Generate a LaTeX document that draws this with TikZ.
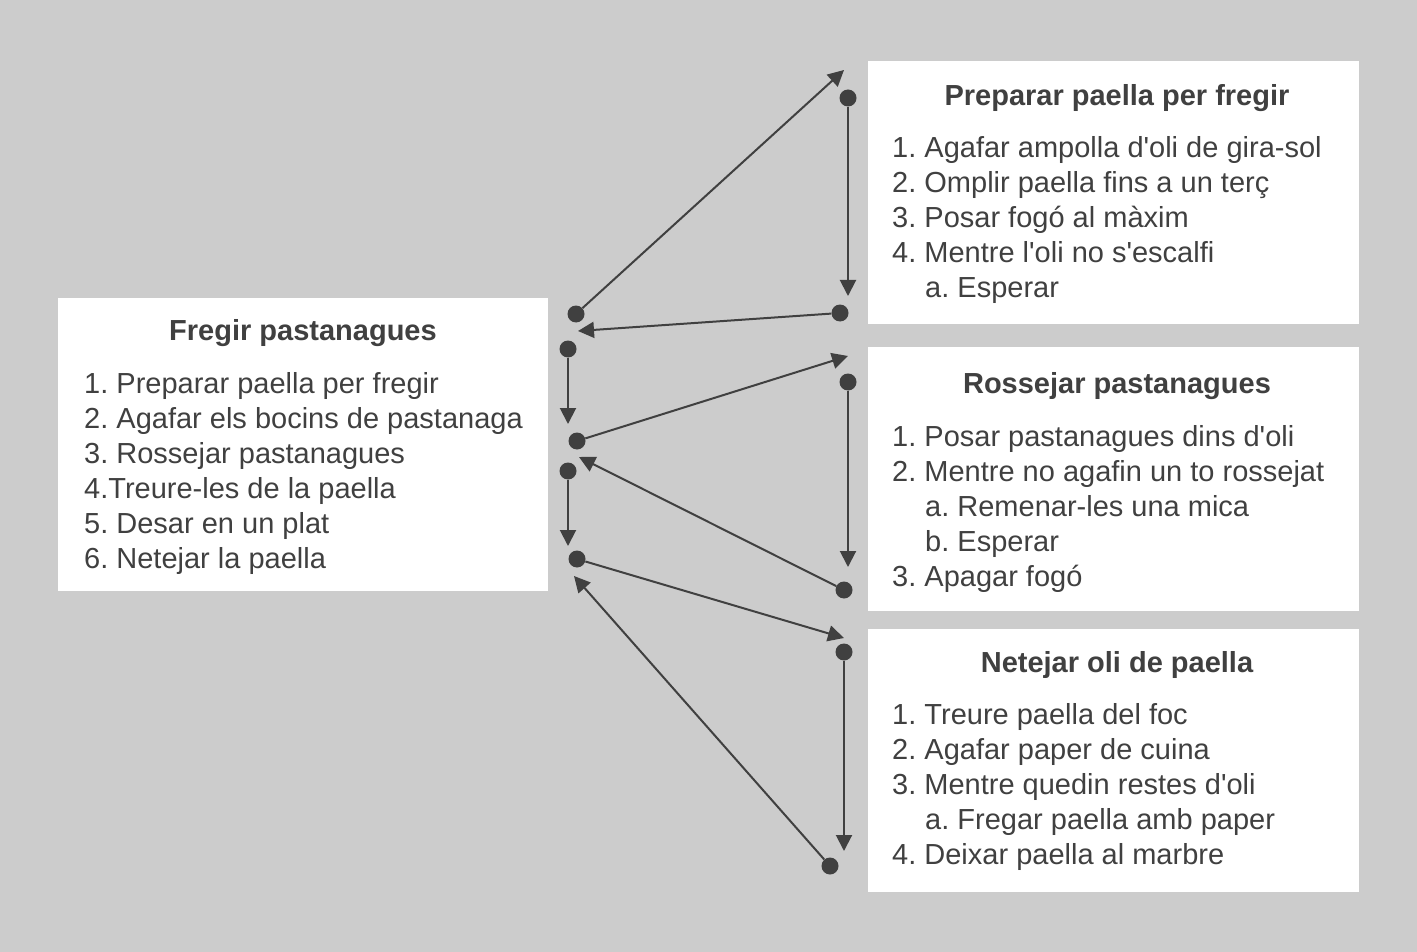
\documentclass[tikz,border=0pt]{standalone}
\usepackage{fontspec}
\setmainfont{Liberation Sans}[Ligatures=TeXOff]
\usetikzlibrary{arrows.meta}
\definecolor{ink}{HTML}{404040}
\definecolor{backdrop}{HTML}{CCCCCC}
\frenchspacing

\begin{document}
\begin{tikzpicture}[x=1pt, y=-1pt]
    \tikzstyle{box} = [fill=white, inner sep=0pt, anchor=north west, minimum width=491pt]
    \tikzstyle{dot} = [circle, fill=ink, inner sep=0pt, minimum size=17pt]
    \tikzstyle{link} = [line width=2pt, draw=ink, -{Triangle[length=16pt, width=16pt]}]
    \tikzstyle{title} = [anchor=base, inner sep=0pt, text=ink, font=\fontsize{29}{35}\selectfont\bfseries]
    \tikzstyle{item} = [anchor=base west, inner sep=0pt, text=ink, font=\fontsize{29}{35}\selectfont]

    \fill [backdrop] (0, 0) rectangle (1417, 952);

    \node [box, minimum width=490pt, minimum height=293pt] (fregir) at (58, 298) {};
    \node [box, minimum height=263pt] (preparar) at (868, 61) {};
    \node [box, minimum height=264pt] (rossejar) at (868, 347) {};
    \node [box, minimum height=263pt] (netejar) at (868, 629) {};

    \node [title] (fregir-title) at (303, 340) {Fregir pastanagues};
    \node [title] (preparar-title) at (1117, 106) {Preparar paella per fregir};
    \node [title] (rossejar-title) at (1117, 393) {Rossejar pastanagues};
    \node [title] (netejar-title) at (1117, 672) {Netejar oli de paella};

    \foreach \n/\y/\t in {1/393/{1. Preparar paella per fregir}, 2/428/{2. Agafar els bocins de pastanaga},
                          3/463/{3. Rossejar pastanagues}, 4/498/{4.Treure-les de la paella},
                          5/533/{5. Desar en un plat}, 6/568/{6. Netejar la paella}}
      \node [item] (fregir-\n) at (84, \y) {\t};

    \foreach \n/\x/\y/\t in {1/892/158/{1. Agafar ampolla d'oli de gira-sol}, 2/892/193/{2. Omplir paella fins a un terç},
                             3/892/228/{3. Posar fogó al màxim}, 4/892/263/{4. Mentre l'oli no s'escalfi},
                             5/925/298/{a. Esperar}}
      \node [item] (preparar-\n) at (\x, \y) {\t};

    \foreach \n/\x/\y/\t in {1/892/446/{1. Posar pastanagues dins d'oli}, 2/892/481/{2. Mentre no agafin un to rossejat},
                             3/925/516/{a. Remenar-les una mica}, 4/925/551/{b. Esperar},
                             5/892/586/{3. Apagar fogó}}
      \node [item] (rossejar-\n) at (\x, \y) {\t};

    \foreach \n/\x/\y/\t in {1/892/724/{1. Treure paella del foc}, 2/892/759/{2. Agafar paper de cuina},
                             3/892/794/{3. Mentre quedin restes d'oli}, 4/925/829/{a. Fregar paella amb paper},
                             5/892/864/{4. Deixar paella al marbre}}
      \node [item] (netejar-\n) at (\x, \y) {\t};

    \node [dot] (f1) at (576, 314) {};
    \node [dot] (f2) at (568, 349) {};
    \node [dot] (f3) at (577, 441) {};
    \node [dot] (f4) at (568, 471) {};
    \node [dot] (f5) at (577, 559) {};
    \node [dot] (p1) at (848, 98) {};
    \node [dot] (p2) at (840, 313) {};
    \node [dot] (r1) at (848, 382) {};
    \node [dot] (r2) at (844, 590) {};
    \node [dot] (n1) at (844, 652) {};
    \node [dot] (n2) at (830, 866) {};

    \coordinate (f1-end) at (844, 70);
    \coordinate (p1-end) at (848, 296);
    \coordinate (p2-end) at (578, 331);
    \coordinate (f2-end) at (568, 424);
    \coordinate (f3-end) at (848, 356);
    \coordinate (r1-end) at (848, 567);
    \coordinate (r2-end) at (579, 457);
    \coordinate (f4-end) at (568, 546);
    \coordinate (f5-end) at (844, 638);
    \coordinate (n1-end) at (844, 851);
    \coordinate (n2-end) at (574, 576);

    \foreach \a in {f1, p1, p2, f2, f3, r1, r2, f4, f5, n1, n2}
      \draw [link] (\a) -- (\a-end);
  \end{tikzpicture}
\end{document}
